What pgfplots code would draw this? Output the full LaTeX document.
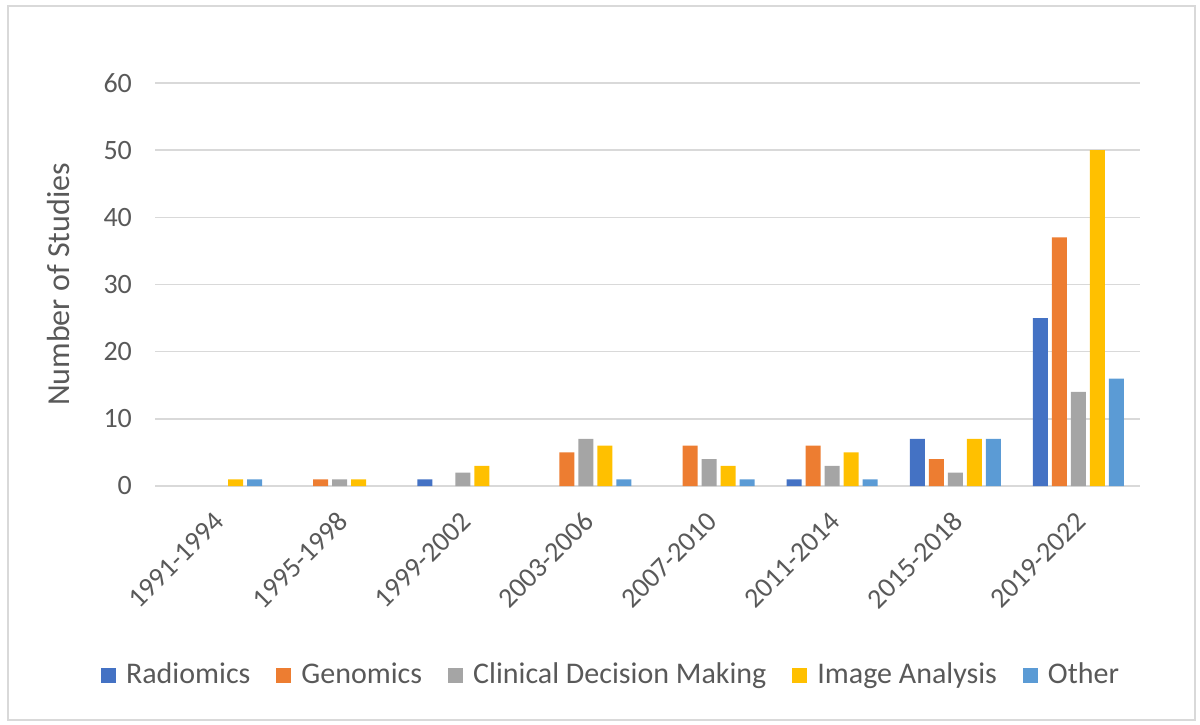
\documentclass[border=0pt]{standalone}
\usepackage{fontspec}
\setmainfont{Carlito}
\usepackage{pgfplots}
\pgfplotsset{compat=1.18}
\definecolor{cR}{RGB}{68,114,196}
\definecolor{cG}{RGB}{237,125,49}
\definecolor{cC}{RGB}{165,165,165}
\definecolor{cI}{RGB}{255,192,0}
\definecolor{cO}{RGB}{91,155,213}
\definecolor{txt}{RGB}{89,89,89}
\definecolor{grd}{RGB}{217,217,217}
\begin{document}
\begin{tikzpicture}
\useasboundingbox (0,0) rectangle (600pt,362pt);
\draw[grd, line width=0.8pt] (4pt,2pt) rectangle (597.5pt,359pt);
\begin{axis}[
  at={(77.5pt,119pt)}, anchor=south west,
  scale only axis, width=492.5pt, height=201.5pt,
  ybar=2pt, bar width=7.5pt,
  xmin=-0.5, xmax=7.5, ymin=0, ymax=60,
  xtick={0,...,7},
  xticklabels={1991-1994,1995-1998,1999-2002,2003-2006,2007-2010,2011-2014,2015-2018,2019-2022},
  ytick={0,10,...,60},
  axis x line*=bottom,
  axis y line*=left,
  x axis line style={grd, line width=0.8pt, -},
  y axis line style={draw=none},
  major tick length=0pt,
  ymajorgrids, grid style={grd, line width=0.8pt},
  /pgf/number format/assume math mode=true,
  yticklabel style={font=\fontsize{14}{16}\selectfont, text=txt, xshift=-8pt},
  xticklabel style={font=\fontsize{14}{16}\selectfont, text=txt, xshift=4pt, yshift=-13pt, rotate=45, anchor=east},
  ylabel={Number of Studies},
  ylabel style={font=\fontsize{16}{18}\selectfont, text=txt, at={(axis description cs:-0.0984,0.5)}, anchor=center},
  legend style={font=\fontsize{15}{17}\selectfont, text=txt, draw=none, fill=none,
    at={(rel axis cs:0.464,-0.469)}, anchor=center, legend columns=-1,
    /tikz/every odd column/.append style={column sep=3pt},
    /tikz/every even column/.append style={column sep=11pt}},
  legend image code/.code={\fill[#1, draw=none] (0pt,-3.75pt) rectangle (7.5pt,3.75pt);},
  every axis plot/.append style={draw=none},
]
\addplot[fill=cR] coordinates {(2,1) (5,1) (6,7) (7,25)};
\addplot[fill=cG] coordinates {(1,1) (3,5) (4,6) (5,6) (6,4) (7,37)};
\addplot[fill=cC] coordinates {(1,1) (2,2) (3,7) (4,4) (5,3) (6,2) (7,14)};
\addplot[fill=cI] coordinates {(0,1) (1,1) (2,3) (3,6) (4,3) (5,5) (6,7) (7,50)};
\addplot[fill=cO] coordinates {(0,1) (3,1) (4,1) (5,1) (6,7) (7,16)};
\legend{Radiomics,Genomics,Clinical Decision Making,Image Analysis,Other}
\end{axis}
\end{tikzpicture}
\end{document}
